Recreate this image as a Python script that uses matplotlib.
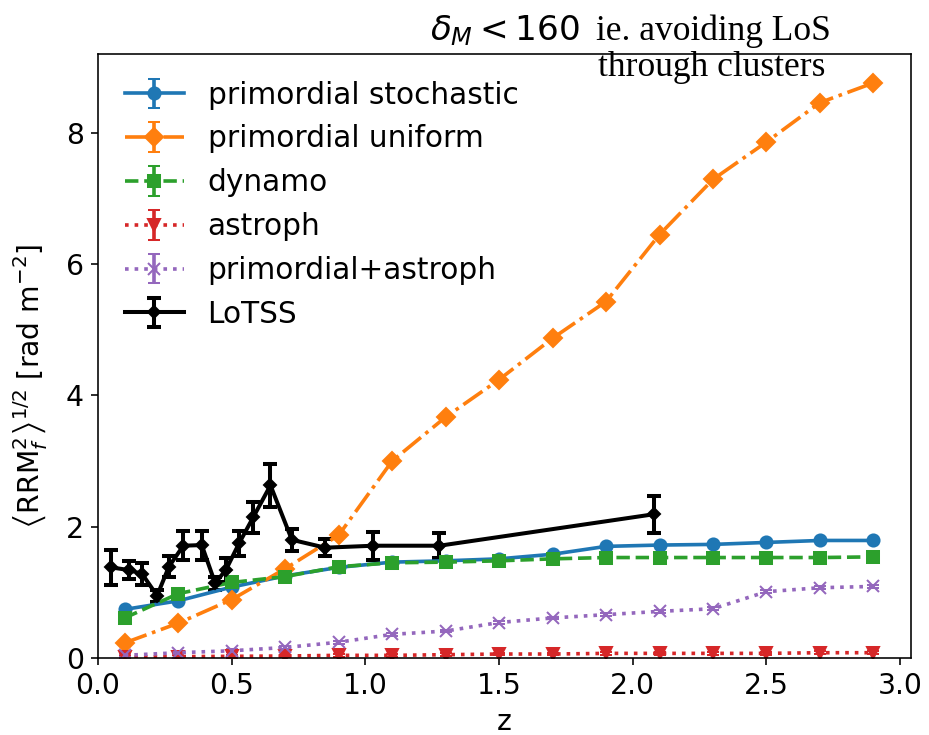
import matplotlib
matplotlib.use("Agg")
import matplotlib.pyplot as plt

# model redshift bins
z_model = [0.1, 0.3, 0.5, 0.7, 0.9, 1.1, 1.3, 1.5, 1.7, 1.9, 2.1, 2.3, 2.5, 2.7, 2.9]

stochastic = [0.74, 0.87, 1.08, 1.25, 1.38, 1.46, 1.48, 1.51, 1.58, 1.70, 1.72, 1.73, 1.76, 1.79, 1.79]
uniform = [0.23, 0.53, 0.89, 1.36, 1.87, 3.00, 3.67, 4.24, 4.87, 5.43, 6.45, 7.29, 7.86, 8.46, 8.76]
dynamo = [0.61, 0.98, 1.15, 1.24, 1.39, 1.45, 1.46, 1.48, 1.51, 1.53, 1.53, 1.53, 1.53, 1.53, 1.54]
astroph = [0.01, 0.02, 0.025, 0.03, 0.04, 0.04, 0.05, 0.06, 0.06, 0.07, 0.07, 0.07, 0.07, 0.08, 0.08]
prim_astroph = [0.04, 0.08, 0.11, 0.16, 0.24, 0.36, 0.41, 0.54, 0.61, 0.66, 0.71, 0.75, 1.01, 1.07, 1.09]
model_err = [0.02] * 15

# LoTSS measurements
z_lotss = [0.048, 0.115, 0.165, 0.221, 0.265, 0.319, 0.388, 0.438, 0.478, 0.528,
           0.58, 0.645, 0.725, 0.85, 1.03, 1.277, 2.08]
rrm_lotss = [1.38, 1.34, 1.28, 0.95, 1.39, 1.71, 1.72, 1.14, 1.34, 1.75,
             2.14, 2.63, 1.80, 1.68, 1.71, 1.71, 2.19]
err_lotss = [0.27, 0.14, 0.17, 0.09, 0.16, 0.22, 0.22, 0.10, 0.19, 0.19,
             0.23, 0.33, 0.17, 0.13, 0.21, 0.19, 0.28]

plt.rcParams["font.size"] = 14

fig = plt.figure(figsize=(929 / 145, 735 / 145), dpi=145)
ax = fig.add_axes([0.1055, 0.1048, 0.875, 0.8217])

kw = dict(capsize=3, lw=1.8)
ax.errorbar(z_model, stochastic, yerr=model_err, fmt="o-", color="tab:blue",
            label="primordial stochastic", **kw)
ax.errorbar(z_model, uniform, yerr=model_err, fmt="D-.", color="tab:orange",
            label="primordial uniform", **kw)
ax.errorbar(z_model, dynamo, yerr=model_err, fmt="s--", color="tab:green",
            label="dynamo", **kw)
ax.errorbar(z_model, astroph, yerr=model_err, fmt="v:", color="tab:red",
            label="astroph", **kw)
ax.errorbar(z_model, prim_astroph, yerr=model_err, fmt="x:", color="tab:purple",
            label="primordial+astroph", **kw)
ax.errorbar(z_lotss, rrm_lotss, yerr=err_lotss, fmt="D-", color="black", ms=4.5,
            lw=2, elinewidth=2, capthick=2, capsize=3.5, label="LoTSS")

ax.set_xlim(0, 3.04)
ax.set_ylim(0, 9.2)
ax.set_xlabel("z")
ax.set_ylabel(r"$\left\langle \mathrm{RRM}_f^2 \right\rangle^{1/2}$ [rad m$^{-2}$]")
ax.yaxis.set_label_coords(-0.06, 0.45)
ax.legend(loc="upper left", frameon=False, fontsize=14.7)

fig.text(430 / 929, 1 - 40 / 735, r"$\delta_M < 160$", fontsize=17, ha="left", va="baseline")
fig.text(596 / 929, 1 - 40 / 735, "ie. avoiding LoS", family="Liberation Serif",
         fontsize=17.6, ha="left", va="baseline")
fig.text(598 / 929, 1 - 76 / 735, "through clusters", family="Liberation Serif",
         fontsize=17.6, ha="left", va="baseline")

fig.savefig("out.png", dpi=145)
